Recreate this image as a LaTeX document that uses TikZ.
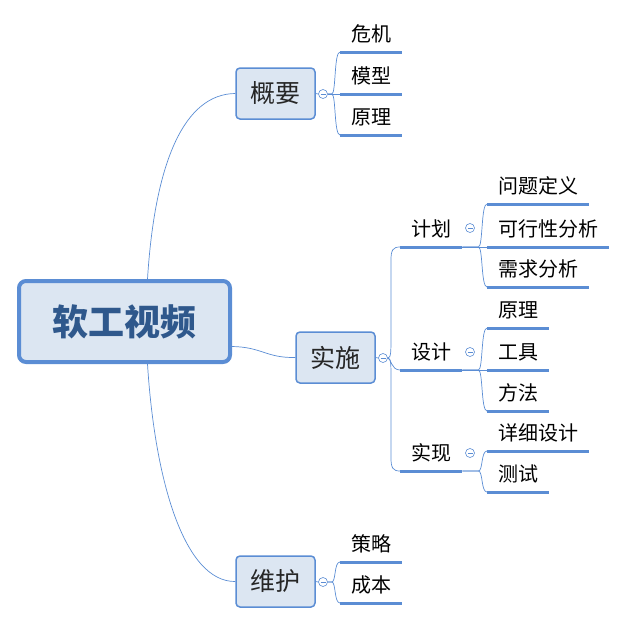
\documentclass[tikz,border=0pt]{standalone}
\usepackage{fontspec}
\newfontfamily\cjk{Noto Sans CJK SC}
\usetikzlibrary{positioning}

\definecolor{linkblue}{RGB}{91,141,212}
\definecolor{boxfill}{RGB}{220,230,242}
\definecolor{roottext}{RGB}{47,88,140}

\tikzset{
  root/.style={draw=linkblue, line width=4pt, fill=boxfill, rounded corners=7pt,
    minimum width=211pt, minimum height=81pt, inner sep=0pt,
    font=\cjk\bfseries\fontsize{36}{36}\selectfont, text=roottext},
  topic/.style={draw=linkblue, line width=1.5pt, fill=boxfill, rounded corners=4pt,
    minimum width=79pt, minimum height=51pt, inner sep=0pt,
    font=\cjk\fontsize{25}{25}\selectfont, text=black!85},
  leaf/.style={anchor=south west, inner xsep=11pt, inner ysep=5pt,
    text height=17pt, text depth=5pt, font=\cjk\fontsize{20}{20}\selectfont},
  uline/.style={draw=linkblue, line width=3pt},
  link/.style={draw=linkblue, line width=0.7pt},
  dot/.style={circle, draw=linkblue, line width=0.6pt, fill=white, minimum size=9pt, inner sep=0pt,
    path picture={\draw[linkblue, line width=0.6pt]
      ([xshift=-2.5pt]path picture bounding box.center) -- ([xshift=2.5pt]path picture bounding box.center);}}
}

\begin{document}
\begin{tikzpicture}[x=1pt, y=-1pt]
  \useasboundingbox (0,0) rectangle (627,625);

  % main topics
  \node[root]  (rt) at (124.5,321.5) {软工视频};
  \node[topic] (gy) at (275.5,93.5)  {概要};
  \node[topic] (ss) at (335.5,357.5) {实施};
  \node[topic] (wh) at (275.5,581.5) {维护};

  \draw[link] ([xshift=23pt]rt.north) .. controls (155,160) and (185,94) .. (gy.west);
  \draw[link] ([xshift=23pt]rt.south) .. controls (155,483) and (185,582) .. (wh.west);
  \draw[link] ([yshift=-25pt]rt.east) .. controls (262,347) and (266,358) .. (ss.west);

  % collapse marks
  \node[dot] (gydot) at (323,94)  {};
  \node[dot] (ssdot) at (383,358) {};
  \node[dot] (whdot) at (323,582) {};
  \node[dot] (jhdot) at (470,228) {};
  \node[dot] (sjdot) at (470,352) {};
  \node[dot] (sxdot) at (470,453) {};

  % leaves
  \node[leaf] (wj)  at (340,52)  {危机};
  \node[leaf] (mx)  at (340,94)  {模型};
  \node[leaf] (yl)  at (340,135) {原理};

  \node[leaf] (jh)  at (400,247) {计划};
  \node[leaf] (sj)  at (400,370) {设计};
  \node[leaf] (sx)  at (400,471) {实现};

  \node[leaf] (wt)  at (487,204) {问题定义};
  \node[leaf] (kx)  at (487,247) {可行性分析};
  \node[leaf] (xq)  at (487,287) {需求分析};

  \node[leaf] (yl2) at (487,328) {原理};
  \node[leaf] (gj)  at (487,370) {工具};
  \node[leaf] (ff)  at (487,411) {方法};

  \node[leaf] (xs)  at (487,451) {详细设计};
  \node[leaf] (cs)  at (487,492) {测试};

  \node[leaf] (cl)  at (340,562) {策略};
  \node[leaf] (cb)  at (340,603) {成本};

  % underlines
  \foreach \n in {wj,mx,yl,jh,sj,sx,wt,kx,xq,yl2,gj,ff,xs,cs,cl,cb}
    \draw[uline] (\n.south west) -- (\n.south east);

  % branches of 概要
  \draw[link] (gy.east) -- (gydot.west);
  \draw[link] (gydot.east) -- (mx.south west);
  \draw[link] (gydot.east) -- ++(4,0) .. controls (336,94) and (334,52) .. (wj.south west);
  \draw[link] (gydot.east) -- ++(4,0) .. controls (336,94) and (334,135) .. (yl.south west);

  % branches of 实施
  \draw[link] (ss.east) -- (ssdot.west);
  \draw[link] (ssdot.east) .. controls (391,358) and (391,352) .. (391,335) -- (391,260)
    .. controls (391,250) and (393,247) .. (jh.south west);
  \draw[link] (ssdot.east) .. controls (391,358) and (391,370) .. (sj.south west);
  \draw[link] (ssdot.east) .. controls (391,358) and (391,364) .. (391,380) -- (391,458)
    .. controls (391,468) and (393,471) .. (sx.south west);

  % branches of 计划
  \draw[link] (jh.south east) -- (kx.south west);
  \draw[link] (jh.south east) -- ++(16,0) .. controls (483,247) and (481,204) .. (wt.south west);
  \draw[link] (jh.south east) -- ++(16,0) .. controls (483,247) and (481,287) .. (xq.south west);

  % branches of 设计
  \draw[link] (sj.south east) -- (gj.south west);
  \draw[link] (sj.south east) -- ++(16,0) .. controls (483,370) and (481,328) .. (yl2.south west);
  \draw[link] (sj.south east) -- ++(16,0) .. controls (483,370) and (481,411) .. (ff.south west);

  % branches of 实现
  \draw[link] (sx.south east) -- ++(16,0) .. controls (483,471) and (481,451) .. (xs.south west);
  \draw[link] (sx.south east) -- ++(16,0) .. controls (483,471) and (481,492) .. (cs.south west);

  % branches of 维护
  \draw[link] (wh.east) -- (whdot.west);
  \draw[link] (whdot.east) -- ++(4,0) .. controls (336,582) and (334,562) .. (cl.south west);
  \draw[link] (whdot.east) -- ++(4,0) .. controls (336,582) and (334,603) .. (cb.south west);
\end{tikzpicture}
\end{document}
